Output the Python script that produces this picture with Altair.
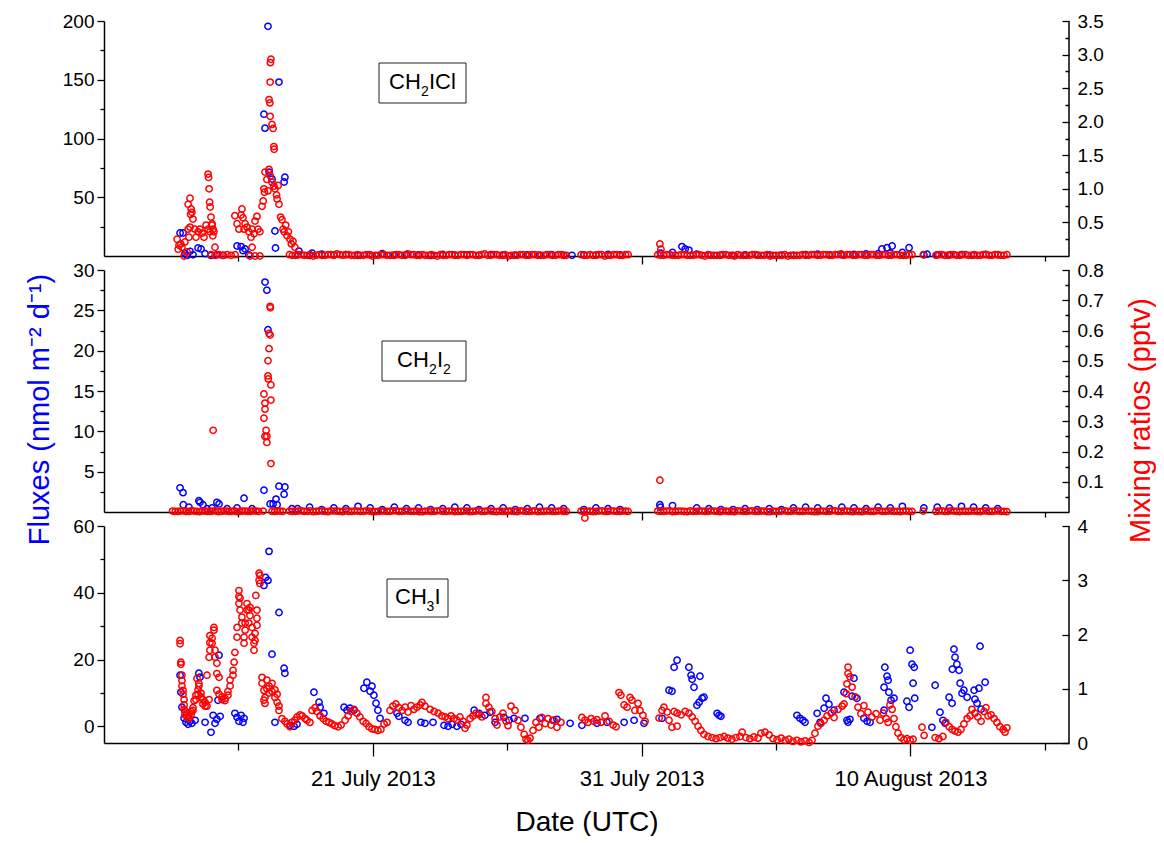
import altair as alt
import pandas as pd

FONT = "Liberation Sans"
BLUE = "#0000FF"
RED = "#FF0000"
W = 965
X_MAX = 35.9  # right edge of the time axis, in days after 11 July 2013 00:00 UTC

# ---------------- axis ticks / labels ----------------
x_tick_days = [5, 10, 15, 20, 25, 30, 35]
x_label_days = [10, 20, 30]
x_label_text = ["21 July 2013", "31 July 2013", "10 August 2013"]

p1_left_ticks = [25, 50, 75, 100, 125, 150, 175, 200]
p1_right_ticks = [0.25, 0.5, 0.75, 1.0, 1.25, 1.5, 1.75, 2.0, 2.25, 2.5, 2.75, 3.0, 3.25, 3.5]
p2_left_ticks = [2.5, 5, 7.5, 10, 12.5, 15, 17.5, 20, 22.5, 25, 27.5, 30]
p2_right_ticks = [0.05, 0.1, 0.15, 0.2, 0.25, 0.3, 0.35, 0.4, 0.45, 0.5, 0.55, 0.6, 0.65, 0.7, 0.75, 0.8]
p3_left_ticks = [0, 10, 20, 30, 40, 50, 60]
p3_right_ticks = [0, 0.5, 1, 1.5, 2, 2.5, 3, 3.5, 4]

# ---------------- data: (day since 11 Jul 2013, value) ----------------
# CH2ICl fluxes (nmol m-2 d-1)
p1_flux = [(2.83,19.6),(2.94,19.6),(3.01,2.0),(3.09,0.5),(3.20,4.0),(3.31,1.0),(3.50,6.8),(3.61,6.0),
           (3.76,2.0),(3.98,0.5),(4.20,1.0),(4.43,0.5),(4.95,8.5),(5.10,8.0),(5.17,4.5),(5.25,6.0),(5.39,1.0),
           (5.95,120.7),(5.99,108.8),(6.10,195.5),(6.14,71.4),(6.25,65.5),(6.36,21.3),(6.38,6.8),(6.51,148.0),
           (6.70,63.0),(6.73,67.0),(7.25,4.2),(7.74,2.5),(17.41,0.6),(21.50,8.0),(21.62,6.0),(21.76,5.0),
           (28.94,6.0),(29.13,7.0),(29.32,8.5),(29.95,7.0),(30.62,1.5)]
# CH2ICl mixing ratios (pptv)
p1_mr = [(2.72,0.25),(2.79,0.16),(2.86,0.18),(2.76,0.10),(2.90,0.13),(3.01,0.21),(2.98,0.0),(3.09,0.06),
         (3.13,0.40),(3.20,0.43),(3.16,0.28),(3.13,0.77),(3.20,0.86),(3.24,0.70),(3.27,0.65),(3.31,0.55),(3.22,0.62),
         (3.38,0.40),(3.42,0.28),(3.50,0.36),(3.57,0.40),(3.65,0.34),(3.72,0.28),(3.80,0.46),(3.87,0.40),(3.94,0.36),
         (4.02,0.46),(3.87,1.22),(3.89,1.17),(3.91,1.00),(3.93,0.80),(3.95,0.73),(3.98,0.58),(4.02,0.48),(4.06,0.40),
         (4.09,0.36),(4.05,0.30),(4.13,0.13),(3.98,0.02),(4.13,0.01),(4.28,0.02),(4.43,0.01),(4.58,0.02),(4.73,0.01),
         (4.88,0.02),(4.87,0.60),(4.95,0.48),(5.02,0.40),(5.10,0.61),(5.13,0.70),(5.17,0.57),(5.25,0.48),(5.21,0.40),
         (5.32,0.43),(5.39,0.36),(5.47,0.28),(5.51,0.13),(5.51,0.40),(5.58,0.33),(5.43,0.0),(5.62,0.0),(5.80,0.0),
         (5.62,0.52),(5.69,0.59),(5.73,0.40),(5.80,0.36),(5.88,0.74),(5.92,0.82),(5.95,1.00),(5.97,0.95),
         (5.99,1.25),(6.06,1.14),(6.10,0.97),(6.14,2.33),(6.17,2.28),(6.18,2.59),(6.19,2.88),(6.21,2.93),(6.18,2.08),
         (6.25,1.96),(6.29,1.90),(6.32,1.63),(6.33,1.59),(6.14,1.29),(6.19,1.19),(6.25,1.10),(6.32,1.04),
         (6.36,1.00),(6.42,0.91),(6.44,0.85),(6.48,1.05),(6.51,0.77),(6.57,0.58),(6.62,0.54),(6.66,0.40),(6.70,0.36),
         (6.76,0.46),(6.81,0.30),(6.86,0.36),(6.92,0.25),(6.97,0.18),(7.03,0.22),(7.10,0.13),(20.68,0.18),(20.72,0.10)]

# CH2I2 fluxes
p2_flux = [(2.83,3.0),(2.94,2.4),(2.95,0.9),(3.16,0.6),(3.53,1.4),(3.57,1.2),(3.68,0.9),(3.83,0.4),(4.02,0.5),
           (4.20,1.2),(4.28,1.0),(4.58,0.4),(4.95,0.5),(5.21,1.7),(5.51,0.4),(5.95,2.7),(5.99,28.5),(6.06,27.5),
           (6.10,22.6),(6.18,1.0),(6.29,1.0),(6.40,1.6),(6.44,0.9),(6.51,3.2),(6.70,2.2),(6.73,3.1),(6.99,0.4),
           (20.68,0.9)]
# CH2I2 mixing ratios
p2_mr = [(4.06,0.27),(6.18,0.68),(6.19,0.675),(6.14,0.59),(6.18,0.585),(6.14,0.54),(6.10,0.50),(6.10,0.45),
         (6.11,0.44),(6.21,0.42),(5.95,0.39),(5.99,0.36),(6.21,0.37),(5.99,0.34),(5.95,0.31),(6.03,0.27),
         (5.99,0.25),(6.06,0.25),(6.06,0.23),(6.21,0.16),(17.89,-0.02),(20.68,0.105)]

# near-zero stretches (measurement times shared by CH2ICl and CH2I2)
t_base_early = [2.55,2.75,2.95,3.15,3.35,3.55,3.75,3.95,4.15,4.35,4.55,4.75,4.95,5.15,5.35,5.55,5.75,5.92,
                6.25,6.45,6.65]
t_base_early_mid = [2.65,2.85,3.05,3.25,3.45,3.65,3.85,4.05,4.25,4.45,4.65,4.85,5.05,5.25,5.45,5.65,6.35,6.55]
t_base = [6.90,7.12,7.34,7.56,7.78,8.00,8.22,8.44,8.66,8.88,9.10,9.32,9.54,9.76,9.98,10.20,10.42,10.64,10.86,
          11.08,11.30,11.52,11.74,11.96,12.18,12.40,12.62,12.84,13.06,13.28,13.50,13.72,13.94,14.16,14.38,14.60,
          14.82,15.04,15.26,15.48,15.70,15.92,16.14,16.36,16.58,16.80,17.02,17.20,
          17.75,17.97,18.19,18.41,18.63,18.85,19.07,19.29,19.50,
          20.60,20.82,21.04,21.26,21.48,21.70,21.92,22.14,22.36,22.58,22.80,23.02,23.24,23.46,23.68,23.90,24.12,
          24.34,24.56,24.78,25.00,25.22,25.44,25.66,25.88,26.10,26.32,26.54,26.76,26.98,27.20,27.42,27.64,27.86,
          28.08,28.30,28.52,28.74,28.96,29.18,29.40,29.62,29.84,30.06,
          30.48,
          30.95,31.17,31.39,31.61,31.83,32.05,32.27,32.49,32.71,32.93,33.15,33.37,33.59]
t_base_mid = [7.01,7.23,7.45,7.67,7.89,8.11,8.33,8.55,8.77,8.99,9.21,9.43,9.65,9.87,10.09,10.31,10.53,10.75,
              10.97,11.19,11.41,11.63,11.85,12.07,12.29,12.51,12.73,12.95,13.17,13.39,13.61,13.83,14.05,14.27,
              14.49,14.71,14.93,15.15,15.37,15.59,15.81,16.03,16.25,16.47,16.69,16.91,17.11,
              17.86,18.08,18.30,18.52,18.74,18.96,19.18,19.40,
              20.71,20.93,21.15,21.37,21.59,21.81,22.03,22.25,22.47,22.69,22.91,23.13,23.35,23.57,23.79,24.01,
              24.23,24.45,24.67,24.89,25.11,25.33,25.55,25.77,25.99,26.21,26.43,26.65,26.87,27.09,27.31,27.53,
              27.75,27.97,28.19,28.41,28.63,28.85,29.07,29.29,29.51,29.73,29.95,
              31.06,31.28,31.50,31.72,31.94,32.16,32.38,32.60,32.82,33.04,33.26,33.48]
p1_mr_base = [0.02,0.01,0.02,0.01,0.00,0.02,0.01,0.02,0.03,0.01,0.02,0.01,0.01,0.02,0.00,0.01,0.02,0.01,0.02,0.01,
              0.03,0.02,0.01,0.01,0.02,0.00,0.01,0.02,0.01,0.02,0.01,0.02,0.01,0.03,0.01,0.02,0.01,0.00,0.01,0.02,
              0.01,0.02,0.01,0.01,0.02,0.01,0.02,0.01,
              0.02,0.01,0.01,0.02,0.00,0.01,0.02,0.01,0.02,
              0.02,0.01,0.02,0.01,0.02,0.01,0.01,0.02,0.00,0.01,0.01,0.02,0.01,0.00,0.01,0.01,0.02,0.01,0.01,0.00,
              0.01,0.01,0.00,0.01,0.01,0.01,0.02,0.01,0.02,0.01,0.02,0.03,0.02,0.01,0.02,0.01,0.02,0.01,0.02,0.01,
              0.02,0.01,0.01,0.02,
              0.02,
              0.01,0.02,0.01,0.02,0.01,0.02,0.01,0.01,0.02,0.01,0.02,0.01,0.02]
p1_mr_mid = [0.01,0.02,0.01,0.02,0.01,0.01,0.02,0.01,0.02,0.02,0.01,0.02,0.01,0.02,0.01,0.02,0.01,0.01,0.02,
             0.01,0.02,0.01,0.02,0.01,0.01,0.02,0.01,0.02,0.01,0.02,0.02,0.01,0.02,0.01,0.02,0.01,0.02,0.01,
             0.01,0.02,0.01,0.02,0.01,0.02,0.01,0.02,0.01,
             0.01,0.02,0.01,0.02,0.01,0.02,0.01,0.02,
             0.01,0.02,0.01,0.01,0.02,0.01,0.02,0.01,0.02,0.01,0.01,0.02,0.01,0.02,0.01,0.01,0.02,0.01,0.02,
             0.01,0.01,0.02,0.01,0.01,0.02,0.01,0.02,0.01,0.02,0.01,0.02,0.01,0.02,0.01,0.02,0.01,0.02,0.01,
             0.02,0.01,0.02,0.01,0.02,
             0.02,0.01,0.02,0.01,0.02,0.01,0.02,0.01,0.02,0.01,0.02,0.01]
p2_mr_early = [0.003,0.002,0.004,0.002,0.003,0.001,0.003,0.002,0.004,0.002,0.003,0.002,0.001,0.003,0.002,0.004,
               0.002,0.003,0.002,0.003,0.002]
p2_mr_early_mid = [0.002,0.003,0.002,0.004,0.002,0.003,0.002,0.003,0.001,0.003,0.002,0.004,0.002,0.003,0.002,
                   0.003,0.002,0.003]
p2_mr_base = [0.003,0.002,0.004,0.002,0.001,0.003,0.002,0.004,0.003,0.001,0.002,0.003,0.002,0.004,0.001,0.002,
              0.003,0.002,0.004,0.002,0.003,0.002,0.001,0.003,0.002,0.004,0.002,0.003,0.001,0.002,0.003,0.002,
              0.004,0.002,0.003,0.001,0.002,0.003,0.002,0.004,0.002,0.003,0.001,0.002,0.003,0.002,0.004,0.002,
              0.003,0.002,0.001,0.003,0.002,0.004,0.002,0.003,0.002,
              0.003,0.002,0.004,0.002,0.003,0.001,0.002,0.003,0.002,0.004,0.002,0.003,0.002,0.001,0.003,0.002,
              0.004,0.002,0.003,0.001,0.002,0.003,0.002,0.004,0.002,0.003,0.002,0.001,0.003,0.002,0.004,0.002,
              0.003,0.001,0.002,0.003,0.002,0.004,0.002,0.003,0.002,0.001,0.003,0.002,
              0.003,
              0.002,0.004,0.002,0.003,0.001,0.002,0.003,0.002,0.004,0.002,0.003,0.002,0.001]
p2_mr_mid = [0.002,0.003,0.002,0.004,0.002,0.003,0.001,0.003,0.002,0.004,0.002,0.003,0.002,0.003,0.001,0.003,
             0.002,0.004,0.002,0.003,0.002,0.003,0.001,0.003,0.002,0.004,0.002,0.003,0.002,0.003,0.001,0.003,
             0.002,0.004,0.002,0.003,0.002,0.003,0.001,0.003,0.002,0.004,0.002,0.003,0.002,0.003,0.002,
             0.002,0.003,0.002,0.004,0.002,0.003,0.002,0.003,
             0.002,0.003,0.001,0.003,0.002,0.004,0.002,0.003,0.002,0.003,0.001,0.003,0.002,0.004,0.002,0.003,
             0.002,0.003,0.001,0.003,0.002,0.004,0.002,0.003,0.002,0.003,0.001,0.003,0.002,0.004,0.002,0.003,
             0.002,0.003,0.001,0.003,0.002,0.004,0.002,0.003,0.002,0.003,0.002,
             0.003,0.002,0.004,0.002,0.003,0.002,0.003,0.001,0.003,0.002,0.004,0.002]
t_flux_base = [7.2,7.65,8.1,8.55,9.0,9.45,9.9,10.35,10.8,11.25,11.7,12.15,12.6,13.05,13.5,13.95,14.4,14.85,
               15.3,15.75,16.2,16.65,17.1,17.85,18.3,18.75,19.2,20.7,21.15,22.05,22.5,22.95,23.4,23.85,24.3,
               24.75,25.2,25.65,26.1,26.55,27.0,27.45,27.9,28.35,28.8,29.25,29.7,30.5,31.0,31.45,31.9,32.35,
               32.8,33.25]
p1_flux_base = [1.0,0.5,1.5,0.8,1.2,0.6,1.0,2.0,0.7,1.1,0.9,0.5,1.3,0.8,1.0,0.6,1.2,0.9,0.7,1.0,0.8,1.1,0.6,
                1.0,0.8,1.4,0.9,2.5,3.0,1.5,1.0,0.8,0.6,0.9,0.7,1.0,0.8,0.6,1.2,1.5,1.0,0.9,1.3,1.8,2.0,2.5,
                3.0,1.0,1.0,0.8,1.2,0.9,1.4,1.0]
p2_flux_base = [0.4,0.6,0.3,0.5,0.4,0.7,0.5,0.3,0.6,0.4,0.5,0.3,0.4,0.6,0.5,0.3,0.4,0.5,0.3,0.4,0.6,0.5,0.4,
                0.3,0.5,0.4,0.3,0.6,0.8,0.5,0.4,0.3,0.3,0.4,0.3,0.4,0.3,0.5,0.6,0.5,0.4,0.6,0.5,0.4,0.6,0.5,
                0.7,0.5,0.6,0.5,0.7,0.6,0.5,0.4]

# CH3I fluxes
p3_flux = [(2.83,15.3),(2.86,10.2),(2.90,5.7),(2.98,2.4),(3.05,1.2),(3.13,0.6),(3.20,1.5),(3.27,0.9),(3.39,1.8),
           (3.53,15.9),(3.57,14.7),(3.76,1.2),(3.98,-1.8),(4.06,3.3),(4.13,0.9),(4.20,2.1),(4.24,7.8),(4.28,21.3),
           (4.32,3.0),(4.87,3.9),(4.95,2.7),(5.02,1.5),(5.10,3.3),(5.17,1.2),(5.21,2.4),
           (5.95,42.2),(6.01,44.6),(6.10,43.7),(6.14,52.4),(6.25,21.6),(6.36,1.2),(6.51,34.1),(6.70,17.4),
           (6.73,15.9),(6.92,0.3),(7.07,0.0),(7.18,0.6),(7.81,10.2),(8.00,7.2),(8.04,5.7),(8.18,3.9),(8.93,5.7),
           (9.04,4.8),(9.15,5.4),(9.30,4.8),(9.67,11.4),(9.78,13.2),(9.90,10.5),(9.97,12.0),(10.04,9.3),
           (10.12,6.9),(10.19,4.8),(10.27,2.4),(10.90,3.9),(10.97,3.0),(11.20,1.8),(11.31,1.2),(11.79,1.2),
           (11.94,0.9),(12.24,1.2),(12.65,0.3),(12.80,0.0),(12.95,0.6),(13.13,0.0),(13.28,0.6),(13.77,4.8),
           (13.95,3.9),(14.17,3.3),(14.36,4.2),(14.55,1.2),(14.88,2.7),(15.07,1.8),(15.25,2.4),(15.66,2.4),
           (16.22,2.4),(16.70,1.8),(16.85,2.1),(17.34,0.9),(17.78,0.3),(18.34,0.9),(18.71,1.2),(19.35,1.2),
           (19.72,1.8),(20.09,0.9),(20.76,2.4),(21.02,10.8),(21.13,10.5),(21.21,17.7),(21.32,19.8),(21.76,17.7),
           (21.84,15.3),(21.88,14.1),(21.95,11.7),(22.06,6.3),(22.14,7.2),(22.17,15.0),(22.25,8.4),(22.32,8.7),
           (22.81,3.9),(22.88,3.3),(22.95,3.0),(25.78,3.3),(25.89,2.4),(26.00,1.8),(26.08,1.2),(26.53,3.9),
           (26.64,1.2),(26.79,5.4),(26.86,8.4),(26.97,6.6),(27.16,4.8),(27.53,10.2),(27.64,1.8),(27.68,1.2),
           (27.75,2.1),(27.83,9.0),(27.90,14.4),(28.01,8.4),(28.27,2.4),(28.39,1.5),(28.50,1.2),
           (29.02,11.7),(29.05,17.7),(29.13,15.0),(29.17,13.8),(29.20,10.2),(29.28,7.8),(29.39,8.4),(29.02,4.8),
           (29.87,7.5),(29.95,5.7),(29.99,22.8),(30.06,18.6),(30.14,17.7),(30.10,12.9),(30.16,8.4),
           (30.80,-0.3),(30.92,12.3),(31.10,4.2),(31.21,1.8),(31.29,0.9),(31.44,8.7),(31.55,6.9),(31.56,17.1),
           (31.62,23.1),(31.66,20.7),(31.73,18.6),(31.81,16.8),(31.85,12.9),(31.92,9.9),(31.99,10.8),(32.11,8.7),
           (32.37,10.8),(32.40,8.1),(32.48,6.9),(32.55,11.4),(32.59,24.0),(32.63,5.1),(32.78,13.2)]
# CH3I mixing ratios
p3_mr = [(2.83,1.89),(2.83,1.83),(2.86,1.49),(2.86,1.45),(2.90,1.25),(2.90,1.15),(2.90,1.05),(2.94,0.97),
         (2.94,0.90),(2.98,0.80),(2.98,0.70),(2.98,0.62),(3.01,0.58),(3.01,0.52),(3.09,0.55),(3.09,0.48),
         (3.16,0.45),(3.16,0.50),(3.24,0.52),(3.24,0.58),(3.31,0.65),(3.31,0.60),(3.35,0.78),(3.42,0.88),
         (3.42,0.80),(3.46,1.19),(3.50,0.98),(3.50,0.90),(3.53,1.10),(3.53,1.05),(3.61,0.92),(3.61,0.85),
         (3.68,0.80),(3.68,0.72),(3.76,0.75),(3.76,0.68),(3.83,1.25),(3.83,0.68),(3.91,1.58),(3.91,0.80),
         (3.94,1.98),(3.94,1.85),(3.94,1.71),(4.02,1.93),(4.02,1.84),(4.09,2.13),(4.09,2.08),(4.13,1.71),
         (4.13,1.58),(4.20,1.47),(4.20,1.28),(4.20,0.97),(4.28,1.21),(4.28,0.90),(4.39,0.85),(4.39,0.80),
         (4.50,0.78),(4.50,0.82),(4.61,0.88),(4.61,0.95),(4.69,1.05),(4.69,1.16),(4.80,1.25),(4.80,1.34),
         (4.84,1.49),(4.87,1.67),(4.95,2.13),(4.95,1.95),(5.02,2.81),(5.02,2.70),(5.02,2.57),(5.06,2.67),
         (5.06,2.45),(5.13,2.32),(5.13,2.21),(5.21,1.95),(5.21,1.84),(5.25,2.21),(5.25,2.08),(5.32,2.57),
         (5.32,2.45),(5.39,2.45),(5.39,2.21),(5.43,2.50),(5.43,2.35),(5.51,2.13),(5.51,1.95),(5.58,1.84),
         (5.58,1.71),(5.62,2.02),(5.62,1.89),(5.65,2.72),(5.69,2.45),(5.69,2.30),(5.69,2.17),(5.77,3.13),
         (5.77,3.00),(5.80,3.09),(5.80,2.94),(5.88,1.21),(5.88,1.10),(5.95,0.97),(5.95,0.79),(5.99,0.84),
         (5.99,0.73),(6.06,1.16),(6.06,1.00),(6.14,1.05),(6.14,0.92),(6.25,1.10),(6.25,0.95),(6.36,0.98),
         (6.36,0.84),(6.44,0.90),(6.44,0.75),(6.51,0.60),(6.51,0.68),
         (6.62,0.45),(6.73,0.40),(6.81,0.35),(6.92,0.30),(6.99,0.38),(7.10,0.42),(7.18,0.48),(7.29,0.52),
         (7.37,0.50),(7.48,0.45),(7.55,0.42),(7.66,0.38),(7.74,0.60),(7.85,0.65),(7.92,0.58),(8.04,0.50),
         (8.15,0.45),(8.26,0.40),(8.37,0.38),(8.48,0.35),(8.59,0.32),(8.71,0.30),(8.82,0.33),(8.97,0.42),
         (9.08,0.50),(9.19,0.58),(9.30,0.62),(9.41,0.55),(9.52,0.48),(9.64,0.40),(9.75,0.36),(9.86,0.30),
         (9.97,0.26),(10.08,0.25),(10.19,0.23),(10.30,0.25),(10.42,0.35),(10.53,0.38),(10.64,0.60),(10.75,0.68),
         (10.86,0.72),(10.97,0.65),(11.09,0.60),(11.20,0.66),(11.31,0.57),(11.42,0.69),(11.53,0.62),(11.64,0.66),
         (11.76,0.70),(11.83,0.75),(11.94,0.68),(12.13,0.62),(12.28,0.58),(12.43,0.55),(12.57,0.50),(12.69,0.48),
         (12.80,0.45),(12.91,0.50),(13.02,0.45),(13.13,0.42),(13.24,0.48),(13.36,0.40),(13.43,0.27),(13.50,0.33),
         (13.62,0.45),(13.73,0.50),(13.84,0.55),(13.95,0.52),(14.06,0.48),(14.21,0.84),(14.21,0.73),(14.32,0.66),
         (14.43,0.58),(14.55,0.45),(14.62,0.33),(14.73,0.48),(14.84,0.55),(14.96,0.40),(15.03,0.32),(15.14,0.68),
         (15.29,0.60),(15.40,0.42),(15.51,0.29),(15.63,0.16),(15.70,0.07),(15.77,0.05),(15.85,0.09),(15.96,0.23),
         (16.07,0.38),(16.18,0.29),(16.29,0.47),(16.41,0.36),(16.52,0.45),(16.63,0.33),(16.74,0.42),(16.85,0.29),
         (17.00,0.38),(17.78,0.47),(17.89,0.42),(18.01,0.38),(18.12,0.45),(18.23,0.40),(18.34,0.43),(18.49,0.38),
         (18.64,0.50),(18.79,0.40),(18.94,0.33),(19.05,0.30),(19.16,0.93),(19.23,0.88),(19.35,0.70),(19.46,0.66),
         (19.57,0.84),(19.64,0.79),(19.75,0.60),(19.87,0.73),(19.94,0.60),(20.05,0.51),(20.13,0.40),
         (20.65,0.46),(20.76,0.60),(20.83,0.66),(20.95,0.57),(21.02,0.42),(21.13,0.29),(21.21,0.58),(21.32,0.55),
         (21.32,0.31),(21.47,0.52),(21.62,0.58),(21.76,0.55),(21.88,0.48),(21.99,0.40),(22.10,0.31),(22.21,0.23),
         (22.32,0.16),(22.47,0.12),(22.62,0.10),(22.77,0.08),(22.92,0.10),(23.07,0.12),(23.21,0.09),(23.36,0.07),
         (23.51,0.10),(23.66,0.12),(23.74,0.20),(23.88,0.10),(24.03,0.08),(24.18,0.11),(24.33,0.09),(24.44,0.18),
         (24.59,0.20),(24.74,0.15),(24.89,0.08),(25.04,0.06),(25.19,0.09),(25.34,0.05),(25.48,0.07),(25.63,0.03),
         (25.78,0.05),(25.93,0.02),(26.08,0.04),(26.23,0.01),(26.34,0.05),(26.45,0.18),(26.56,0.31),(26.67,0.36),
         (26.79,0.42),(26.90,0.50),(27.05,0.55),(27.16,0.47),(27.31,0.62),(27.46,0.68),(27.53,0.72),(27.61,0.91),
         (27.64,1.09),(27.68,1.28),(27.68,1.40),(27.75,1.22),(27.83,1.03),(27.94,0.85),(28.05,0.66),(28.16,0.54),
         (28.27,0.69),(28.42,0.57),(28.57,0.48),(28.72,0.54),(28.87,0.42),(28.99,0.55),(29.10,0.45),(29.17,0.38),
         (29.24,0.70),(29.32,0.62),(29.39,0.45),(29.46,0.30),(29.54,0.18),(29.65,0.10),(29.76,0.06),(29.87,0.08),
         (29.99,0.05),(30.10,0.07),(30.43,0.29),(30.51,0.14),
         (30.92,0.10),(31.06,0.08),(31.21,0.12),(31.32,0.38),(31.44,0.30),(31.55,0.25),(31.66,0.22),(31.77,0.20),
         (31.88,0.25),(31.99,0.35),(32.11,0.45),(32.22,0.50),(32.29,0.62),(32.40,0.55),(32.51,0.48),(32.63,0.40),
         (32.74,0.58),(32.81,0.65),(32.89,0.50),(33.00,0.52),(33.11,0.45),(33.22,0.38),(33.33,0.30),(33.45,0.25),
         (33.52,0.20),(33.59,0.28)]


# ---------------- helpers ----------------
def frame_of(*parts):
    rows = []
    for p in parts:
        rows.extend(p)
    return pd.DataFrame(rows, columns=["day", "value"])


def major_test(major):
    return f"round(datum.value*100) % {int(round(major * 100))} === 0"


x_label_expr = "".join(f"datum.value === {d} ? '{t}' : " for d, t in zip(x_label_days, x_label_text)) + "''"
x_major_test = " || ".join(f"datum.value === {d}" for d in x_label_days)


def x_encoding(bottom):
    if bottom:
        axis = alt.Axis(values=x_tick_days, labelExpr=x_label_expr, labelFontSize=22, labelPadding=12,
                        labelFlush=False, labelOverlap=False, tickSize=13, tickWidth=1.3,
                        tickDash={"condition": {"test": x_major_test, "value": [40, 0]}, "value": [7, 40]},
                        domainWidth=1.5, titleFontSize=28, titleFontWeight="normal", titlePadding=19,
                        titleColor="black")
        return alt.X("day:Q", scale=alt.Scale(domain=[0, X_MAX], nice=False, zero=False), axis=axis,
                     title="Date (UTC)")
    axis = alt.Axis(values=x_tick_days, labels=False, tickSize=8, tickWidth=1.3,
                    tickDash={"condition": {"test": x_major_test, "value": [40, 0]}, "value": [5, 40]},
                    domainWidth=1.5)
    return alt.X("day:Q", scale=alt.Scale(domain=[0, X_MAX], nice=False, zero=False), axis=axis, title=None)


def left_axis(ticks, major, fmt, title=None, title_y=None):
    kw = dict(orient="left", values=ticks, format=fmt, labelExpr=f"{major_test(major)} ? datum.label : ''",
              labelFontSize=19, labelPadding=3, tickSize=7, tickWidth=1.3,
              tickDash={"condition": {"test": major_test(major), "value": [40, 0]}, "value": [4, 40]},
              domainWidth=1.5)
    if title:
        kw.update(titleColor=BLUE, titleFontSize=29, titleFontWeight="normal", titlePadding=18, titleY=title_y)
    return alt.Axis(**kw)


def right_axis(ticks, major, fmt, title=None, title_y=None):
    kw = dict(orient="right", offset=-7, domain=False, values=ticks, format=fmt,
              labelExpr=f"{major_test(major)} ? datum.label : ''", labelFontSize=19, labelPadding=8,
              tickSize=7, tickWidth=1.3,
              tickDash={"condition": {"test": major_test(major), "value": [40, 0]}, "value": [0, 3, 4, 40]})
    if title:
        kw.update(titleColor=RED, titleFontSize=29, titleFontWeight="normal", titlePadding=23,
                  titleAngle=270, titleBaseline="top", titleY=title_y)
    return alt.Axis(**kw)


one_row = pd.DataFrame({"k": [0]})


def label_layers(box, parts):
    layers = [alt.Chart(one_row).mark_rect(fill="white", stroke="#222222", strokeWidth=1).encode(
        x=alt.value(box[0]), x2=alt.value(box[1]), y=alt.value(box[2]), y2=alt.value(box[3]))]
    for txt, px, py, fs in parts:
        layers.append(alt.Chart(one_row).mark_text(align="left", baseline="alphabetic", font=FONT,
                                                    fontSize=fs, color="black").encode(
            x=alt.value(px), y=alt.value(py), text=alt.value(txt)))
    return layers


MARK = dict(shape="circle", filled=False, size=40, strokeWidth=1.5, opacity=1)


def panel(flux_df, mr_df, height, ldom, laxis, ltitle, rdom, raxis, rtitle, labels, bottom=False):
    xe = x_encoding(bottom)
    blue = alt.Chart(flux_df).mark_point(color=BLUE, **MARK).encode(
        x=xe, y=alt.Y("value:Q", scale=alt.Scale(domain=ldom, nice=False, zero=False), axis=laxis,
                      title=ltitle))
    red = alt.Chart(mr_df).mark_point(color=RED, **MARK).encode(
        x=xe, y=alt.Y("value:Q", scale=alt.Scale(domain=rdom, nice=False, zero=False), axis=raxis,
                      title=rtitle))
    right_line = alt.Chart(one_row).mark_rule(color="black", strokeWidth=1.5).encode(
        x=alt.value(W), y=alt.value(0), y2=alt.value(height))
    return alt.layer(blue, red, right_line, *labels).resolve_scale(y="independent").properties(
        width=W, height=height)


H1, H2, H3 = 235, 242, 217

p1 = panel(frame_of(list(zip(t_flux_base, p1_flux_base)), p1_flux),
           frame_of(p1_mr, list(zip(t_base, p1_mr_base)), list(zip(t_base_mid, p1_mr_mid))), H1,
           [0, 200], left_axis(p1_left_ticks, 50, "d"), None,
           [0, 3.5], right_axis(p1_right_ticks, 0.5, ".1f"), None,
           label_layers((275, 362, 42, 82), [("CH", 285, 67.5, 22), ("2", 317, 75, 14), ("ICl", 325, 67.5, 22)]))

p2 = panel(frame_of(list(zip(t_flux_base, p2_flux_base)), p2_flux),
           frame_of(list(zip(t_base_early, p2_mr_early)), list(zip(t_base_early_mid, p2_mr_early_mid)),
                    list(zip(t_base, p2_mr_base)), list(zip(t_base_mid, p2_mr_mid)), p2_mr), H2,
           [0, 30], left_axis(p2_left_ticks, 5, "d", title=True, title_y=139), "Fluxes (nmol m\u207b\u00b2 d\u207b\u00b9)",
           [0, 0.8], right_axis(p2_right_ticks, 0.1, ".1f", title=True, title_y=150), "Mixing ratios (pptv)",
           label_layers((278, 362, 71, 111), [("CH", 293, 96.5, 22), ("2", 325, 104, 14), ("I", 333, 96.5, 22),
                                              ("2", 339, 104, 14)]))

p3 = panel(frame_of(p3_flux), frame_of(p3_mr), H3,
           [-5, 60], left_axis(p3_left_ticks, 20, "d"), None,
           [0, 4], right_axis(p3_right_ticks, 1, "d"), None,
           label_layers((283, 344, 53, 91), [("CH", 291, 77.5, 22), ("3", 322.5, 85, 14), ("I", 330.5, 77.5, 22)]),
           bottom=True)

chart = alt.vconcat(p1, p2, p3, spacing=14, bounds="flush").properties(
    padding={"left": 17, "top": 4, "right": 0, "bottom": 0}
).configure_view(stroke=None).configure_axis(
    labelFont=FONT, titleFont=FONT, labelColor="black", tickColor="black", domainColor="black", grid=False
)

chart.save("out.html", embed_options={"renderer": "svg", "actions": False})
